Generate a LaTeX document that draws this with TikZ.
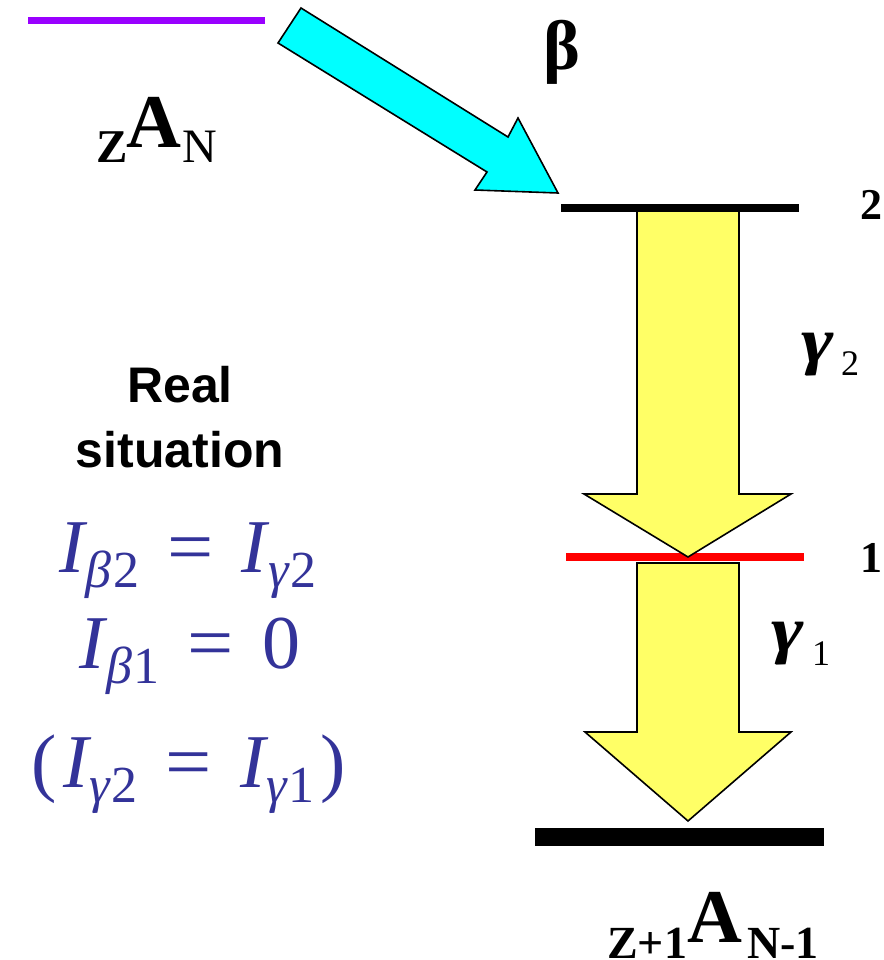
\documentclass[tikz,border=0pt]{standalone}
\usepackage{fontspec}
\setmainfont{Liberation Serif}
\newfontfamily\arialfont{Liberation Sans}
\definecolor{eqblue}{RGB}{51,51,153}
\definecolor{lvlpurple}{RGB}{153,0,255}
\definecolor{arrcyan}{RGB}{0,255,255}
\definecolor{arryellow}{RGB}{255,255,102}
\definecolor{lvlred}{RGB}{255,0,0}
\newcommand{\eqsub}[2]{\raisebox{-15pt}{\fontsize{52}{52}\selectfont\itshape #1\kern2pt\upshape #2}}
\newcommand{\eqI}{{\itshape I}\kern1pt}
\newcommand{\eqeq}{\hspace{28pt}\scalebox{1.08}[1]{=}\hspace{28pt}}
\newcommand{\eqsize}{\fontsize{76}{76}\selectfont}
\newcommand{\gamlbl}{\scalebox{1.22}[1]{\fontsize{64}{64}\selectfont\bfseries\itshape γ}}
\begin{document}
\begin{tikzpicture}[x=1pt,y=-1pt,
  lvl/.style={line width=8pt},
  bigarrow/.style={draw=black,line width=1.6pt,line join=miter},
  lbl/.style={inner sep=0pt,anchor=base west},
  clbl/.style={inner sep=0pt,anchor=base},
]
\useasboundingbox (0,0) rectangle (883,960);

% initial level
\coordinate (p1) at (28,20.5);
\coordinate (p2) at (265,20.5);
\draw[line width=7pt,lvlpurple] (p1) -- (p2);

% beta arrow
\filldraw[fill=arrcyan,bigarrow] (301,8) -- (508,137) -- (518,118) -- (558,193)
  -- (475,190) -- (487,172) -- (278,43) -- cycle;

% red level 1
\coordinate (r1) at (566,557);
\coordinate (r2) at (804,557);
\draw[lvl,lvlred] (r1) -- (r2);

% gamma2 arrow
\filldraw[fill=arryellow,bigarrow] (637,207) -- (739,207) -- (739,494) -- (791,494)
  -- (688,557) -- (584,494) -- (637,494) -- cycle;

% level 2
\coordinate (k1) at (561,207.5);
\coordinate (k2) at (799,207.5);
\draw[lvl,black] (k1) -- (k2);

% gamma1 arrow
\filldraw[fill=arryellow,bigarrow] (637,563) -- (739,563) -- (739,732) -- (791,732)
  -- (688,821) -- (585,732) -- (637,732) -- cycle;

% ground level
\coordinate (g1) at (535,837);
\coordinate (g2) at (824,837);
\draw[line width=18pt,black] (g1) -- (g2);

% labels
\node[lbl] (zl) at (96,163) {\fontsize{47}{47}\selectfont\bfseries Z};
\node[lbl] (al) at (126,148) {\fontsize{76}{76}\selectfont\bfseries A};
\node[lbl] (nl) at (182,163) {\fontsize{48}{48}\selectfont N};

\node[lbl] (beta) at (543,70) {\fontsize{70}{70}\selectfont\bfseries β};

\node[lbl] (two) at (860,219) {\fontsize{44}{44}\selectfont\bfseries 2};
\node[lbl] (one) at (860,572) {\fontsize{44}{44}\selectfont\bfseries 1};

\node[lbl] (g2g) at (801,362) {\gamlbl};
\node[lbl] (g2s) at (841,375) {\fontsize{36}{36}\selectfont 2};
\node[lbl] (g1g) at (771,651) {\gamlbl};
\node[lbl] (g1s) at (812,665) {\fontsize{36}{36}\selectfont 1};

\node[lbl] (zl2) at (607,958) {\fontsize{46}{46}\selectfont\bfseries Z+1};
\node[lbl] (al2) at (687,942) {\fontsize{76}{76}\selectfont\bfseries A};
\node[lbl] (nl2) at (747,958) {\fontsize{46}{46}\selectfont\bfseries N-1};

\node[clbl] (real) at (180,402) {\arialfont\bfseries\fontsize{50}{50}\selectfont Real};
\node[clbl] (sit) at (180,467) {\arialfont\bfseries\fontsize{50}{50}\selectfont situation};

\node[clbl,text=eqblue] (eq1) at (188,572) {\eqsize \eqI\eqsub{β}{2}\eqeq\eqI\eqsub{γ}{2}};
\node[clbl,text=eqblue] (eq2) at (190,668) {\eqsize \eqI\eqsub{β}{1}\eqeq 0};
\node[clbl,text=eqblue] (eq3) at (189,787) {\eqsize (\kern6pt\eqI\eqsub{γ}{2}\eqeq\eqI\eqsub{γ}{1}\kern6pt)};
\end{tikzpicture}
\end{document}
